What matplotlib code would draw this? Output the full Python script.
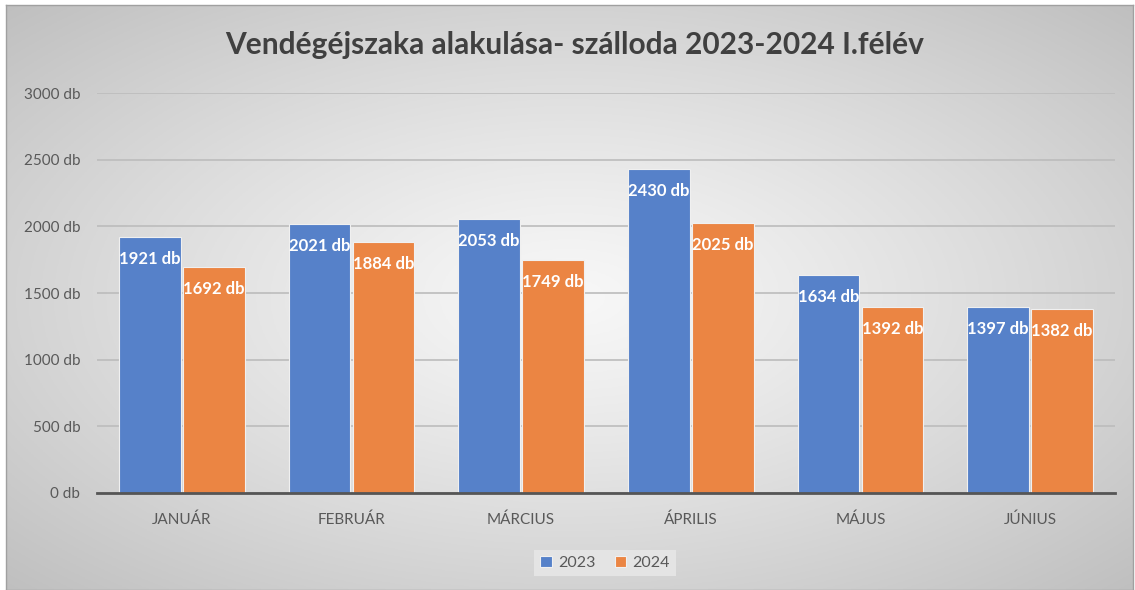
import numpy as np
import matplotlib.pyplot as plt

plt.rcParams['font.family'] = ['Lato', 'DejaVu Sans']

# Data
months = ["JANUÁR", "FEBRUÁR", "MÁRCIUS", "ÁPRILIS", "MÁJUS", "JÚNIUS"]
v2023 = [1921, 2021, 2053, 2430, 1634, 1397]
v2024 = [1692, 1884, 1749, 2025, 1392, 1382]
series_names = ["2023", "2024"]
yticks = [0, 500, 1000, 1500, 2000, 2500, 3000]

c23 = '#5681C9'
c24 = '#EB8543'
txt = '#595959'

W, H = 1135, 590
fig = plt.figure(figsize=(W / 100, H / 100), dpi=100)

# radial gradient background with thin border
bg = fig.add_axes([6 / W, 0, (1133 - 6) / W, (590 - 5) / H])
gx, gy = np.meshgrid(np.linspace(-1, 1, 400), np.linspace(-1, 1, 220))
r = np.sqrt(gx ** 2 + gy ** 2) / np.sqrt(2)
shade = 0.97 - 0.22 * r ** 1.2
bg.imshow(np.dstack([shade] * 3), extent=[0, 1, 0, 1], aspect='auto', origin='lower')
bg.set_xticks([])
bg.set_yticks([])
for s in bg.spines.values():
    s.set_color('#a0a0a0')
    s.set_linewidth(1)

ax = fig.add_axes([97 / W, (H - 493) / H, (1115 - 97) / W, 400 / H])
ax.patch.set_alpha(0)

x = np.arange(len(months))
bw = 0.365
b1 = ax.bar(x - bw / 2 - 0.006, v2023, bw, color=c23, edgecolor='#f0f0f0', linewidth=0.8,
            label=series_names[0], zorder=3)
b2 = ax.bar(x + bw / 2 + 0.006, v2024, bw, color=c24, edgecolor='#f0f0f0', linewidth=0.8,
            label=series_names[1], zorder=3)

for bars, vals in [(b1, v2023), (b2, v2024)]:
    for b, v in zip(bars, vals):
        ax.annotate(f"{v} db", (b.get_x() + b.get_width() / 2, v), xytext=(0, -22),
                    textcoords='offset pixels', ha='center', va='center',
                    color='white', fontsize=12, fontweight='bold', zorder=4)

ax.set_xlim(-0.5, len(months) - 0.5)
ax.set_ylim(0, 3000)
ax.set_yticks(yticks)
ax.set_yticklabels([f"{t} db" for t in yticks])
ax.set_xticks(x)
ax.set_xticklabels(months)
ax.tick_params(axis='both', length=0, colors=txt, labelsize=11)
ax.tick_params(axis='x', pad=14)
ax.tick_params(axis='y', pad=12)
ax.yaxis.grid(True, color='#bcbcbc', linewidth=1.2, zorder=0)
ax.set_axisbelow(True)
for s in ['top', 'right', 'left']:
    ax.spines[s].set_visible(False)
ax.spines['bottom'].set_color('#555555')
ax.spines['bottom'].set_linewidth(2)
ax.spines['bottom'].set_zorder(5)

fig.text(575 / W, 1 - 45 / H, "Vendégéjszaka alakulása- szálloda 2023-2024 I.félév",
         ha='center', va='center', fontsize=21.5, fontweight='bold', color='#404040')

leg = fig.legend(handles=[b1, b2], loc='center', bbox_to_anchor=(605 / W, 1 - 563 / H),
                 ncol=2, fontsize=11.5, frameon=True, facecolor='#e4e4e4', edgecolor='none',
                 framealpha=1, handlelength=0.7, handleheight=0.7, handletextpad=0.4,
                 columnspacing=1.2, borderpad=0.4, fancybox=False)
for t in leg.get_texts():
    t.set_color(txt)

fig.savefig('out.png', dpi=100)
